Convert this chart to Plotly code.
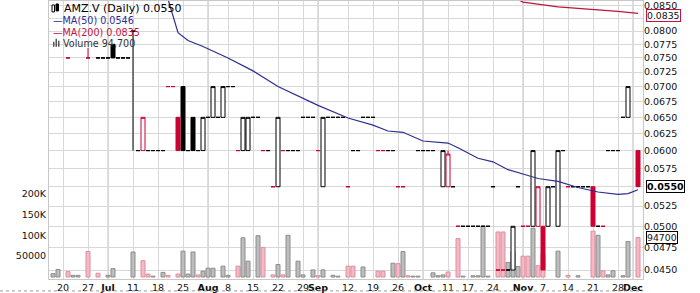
import math
import pandas as pd
import plotly.graph_objects as go

# ---------------- trading calendar (TSX-V, 2011) ----------------
holidays = ["2011-07-01", "2011-08-01", "2011-09-05", "2011-10-10"]
trading_days = [d.strftime("%Y-%m-%d") for d in pd.bdate_range("2011-06-15", "2011-12-02")
                if d.strftime("%Y-%m-%d") not in holidays]
pos = {d: k for k, d in enumerate(trading_days)}

# ---------------- candles ----------------
candle_dates = [
    "2011-06-21", "2011-06-27", "2011-06-29", "2011-06-30", "2011-07-04", "2011-07-05", "2011-07-06",
    "2011-07-07", "2011-07-08", "2011-07-11", "2011-07-12", "2011-07-13", "2011-07-14", "2011-07-15",
    "2011-07-18", "2011-07-19", "2011-07-20", "2011-07-21", "2011-07-22", "2011-07-25", "2011-07-26",
    "2011-07-27", "2011-07-28", "2011-07-29", "2011-08-02", "2011-08-03", "2011-08-04", "2011-08-05",
    "2011-08-08", "2011-08-09", "2011-08-10", "2011-08-11", "2011-08-12", "2011-08-15", "2011-08-16",
    "2011-08-17", "2011-08-18", "2011-08-19", "2011-08-22", "2011-08-23", "2011-08-24", "2011-08-25",
    "2011-08-26", "2011-08-29", "2011-08-30", "2011-08-31", "2011-09-01", "2011-09-02", "2011-09-06",
    "2011-09-07", "2011-09-08", "2011-09-09", "2011-09-12", "2011-09-13", "2011-09-14", "2011-09-15",
    "2011-09-16", "2011-09-19", "2011-09-20", "2011-09-21", "2011-09-22", "2011-09-23", "2011-09-26",
    "2011-09-27", "2011-09-30", "2011-10-03", "2011-10-04", "2011-10-05", "2011-10-07", "2011-10-11",
    "2011-10-12", "2011-10-13", "2011-10-14", "2011-10-17", "2011-10-18", "2011-10-19", "2011-10-20",
    "2011-10-21", "2011-10-24", "2011-10-25", "2011-10-26", "2011-10-27", "2011-10-28", "2011-10-31",
    "2011-11-01", "2011-11-02", "2011-11-03", "2011-11-04", "2011-11-07", "2011-11-08", "2011-11-09",
    "2011-11-10", "2011-11-11", "2011-11-14", "2011-11-15", "2011-11-16", "2011-11-17", "2011-11-18",
    "2011-11-21", "2011-11-22", "2011-11-23", "2011-11-24", "2011-11-25", "2011-11-28", "2011-11-29",
    "2011-11-30", "2011-12-02",
]
opens = [
    0.075, 0.075, 0.075, 0.075, 0.075, 0.0775, 0.075,
    0.075, 0.075, 0.080, 0.060, 0.060, 0.060, 0.060,
    0.060, 0.060, 0.070, 0.070, 0.065, 0.070, 0.060,
    0.065, 0.060, 0.060, 0.065, 0.065, 0.065, 0.065,
    0.070, 0.070, 0.060, 0.060, 0.060, 0.065, 0.065,
    0.060, 0.060, 0.055, 0.055, 0.060, 0.060, 0.060,
    0.060, 0.065, 0.065, 0.065, 0.060, 0.055, 0.065,
    0.065, 0.065, 0.065, 0.055, 0.060, 0.060, 0.065,
    0.065, 0.065, 0.060, 0.060, 0.060, 0.060, 0.055,
    0.055, 0.060, 0.060, 0.060, 0.060, 0.055, 0.055,
    0.055, 0.050, 0.050, 0.050, 0.050, 0.050, 0.050,
    0.050, 0.055, 0.045, 0.045, 0.045, 0.045, 0.055,
    0.050, 0.050, 0.050, 0.050, 0.050, 0.050, 0.055,
    0.050, 0.060, 0.055, 0.055, 0.055, 0.055, 0.055,
    0.055, 0.050, 0.050, 0.060, 0.060, 0.060, 0.065,
    0.065, 0.060,
]
highs = [
    0.075, 0.0768, 0.075, 0.075, 0.075, 0.0775, 0.075,
    0.075, 0.075, 0.080, 0.060, 0.065, 0.060, 0.060,
    0.060, 0.060, 0.070, 0.070, 0.065, 0.070, 0.060,
    0.065, 0.060, 0.065, 0.065, 0.070, 0.065, 0.070,
    0.070, 0.070, 0.060, 0.065, 0.065, 0.065, 0.065,
    0.060, 0.060, 0.055, 0.065, 0.060, 0.060, 0.060,
    0.060, 0.065, 0.065, 0.065, 0.060, 0.065, 0.065,
    0.065, 0.065, 0.065, 0.055, 0.060, 0.060, 0.065,
    0.065, 0.065, 0.060, 0.060, 0.060, 0.060, 0.055,
    0.055, 0.060, 0.060, 0.060, 0.060, 0.060, 0.060,
    0.055, 0.050, 0.050, 0.050, 0.050, 0.050, 0.050,
    0.050, 0.055, 0.045, 0.045, 0.045, 0.050, 0.055,
    0.050, 0.050, 0.060, 0.055, 0.050, 0.055, 0.055,
    0.060, 0.060, 0.055, 0.055, 0.055, 0.055, 0.055,
    0.055, 0.050, 0.050, 0.060, 0.060, 0.060, 0.065,
    0.070, 0.060,
]
lows = [
    0.075, 0.075, 0.075, 0.075, 0.075, 0.075, 0.075,
    0.075, 0.075, 0.060, 0.060, 0.060, 0.060, 0.060,
    0.060, 0.060, 0.070, 0.070, 0.060, 0.060, 0.060,
    0.060, 0.060, 0.060, 0.065, 0.065, 0.065, 0.065,
    0.070, 0.070, 0.060, 0.060, 0.060, 0.065, 0.065,
    0.060, 0.060, 0.055, 0.055, 0.060, 0.060, 0.060,
    0.060, 0.065, 0.065, 0.065, 0.060, 0.055, 0.065,
    0.065, 0.065, 0.065, 0.055, 0.060, 0.060, 0.065,
    0.065, 0.065, 0.060, 0.060, 0.060, 0.060, 0.055,
    0.055, 0.060, 0.060, 0.060, 0.060, 0.055, 0.055,
    0.055, 0.050, 0.050, 0.050, 0.050, 0.050, 0.050,
    0.050, 0.055, 0.045, 0.045, 0.045, 0.045, 0.055,
    0.050, 0.050, 0.050, 0.050, 0.045, 0.050, 0.055,
    0.050, 0.060, 0.055, 0.055, 0.055, 0.055, 0.055,
    0.050, 0.050, 0.050, 0.060, 0.060, 0.060, 0.065,
    0.065, 0.055,
]
closes = [
    0.075, 0.075, 0.075, 0.075, 0.075, 0.075, 0.075,
    0.075, 0.075, 0.080, 0.060, 0.065, 0.060, 0.060,
    0.060, 0.060, 0.070, 0.070, 0.060, 0.060, 0.060,
    0.060, 0.060, 0.065, 0.065, 0.070, 0.065, 0.070,
    0.070, 0.070, 0.060, 0.065, 0.065, 0.065, 0.065,
    0.060, 0.060, 0.055, 0.065, 0.060, 0.060, 0.060,
    0.060, 0.065, 0.065, 0.065, 0.060, 0.065, 0.065,
    0.065, 0.065, 0.065, 0.055, 0.060, 0.060, 0.065,
    0.065, 0.065, 0.060, 0.060, 0.060, 0.060, 0.055,
    0.055, 0.060, 0.060, 0.060, 0.060, 0.060, 0.0595,
    0.055, 0.050, 0.050, 0.050, 0.050, 0.050, 0.050,
    0.050, 0.055, 0.045, 0.045, 0.045, 0.050, 0.055,
    0.050, 0.050, 0.060, 0.055, 0.045, 0.055, 0.055,
    0.060, 0.060, 0.055, 0.055, 0.055, 0.055, 0.055,
    0.050, 0.050, 0.050, 0.060, 0.060, 0.060, 0.065,
    0.070, 0.055,
]
# 'k' = close at/above previous close, 'r' = below previous close
candle_colors = [
    "r", "r", "k", "k", "k", "k", "k",
    "k", "k", "k", "k", "r", "k", "k",
    "k", "k", "r", "r", "r", "k", "k",
    "k", "k", "k", "k", "k", "k", "k",
    "k", "k", "r", "k", "k", "k", "k",
    "r", "k", "r", "k", "r", "k", "k",
    "k", "k", "k", "k", "r", "k", "k",
    "k", "k", "k", "r", "k", "k", "k",
    "k", "k", "r", "r", "k", "k", "r",
    "r", "k", "k", "k", "k", "k", "r",
    "k", "r", "k", "k", "k", "k", "k",
    "k", "k", "r", "r", "k", "k", "k",
    "r", "r", "k", "r", "r", "k", "k",
    "k", "k", "r", "k", "k", "k", "k",
    "r", "k", "r", "k", "k", "k", "k",
    "k", "r",
]

# ---------------- volume ----------------
vol_dates = [
    "2011-06-16", "2011-06-17", "2011-06-21", "2011-06-22", "2011-06-23", "2011-06-27", "2011-06-29",
    "2011-07-04", "2011-07-05", "2011-07-11", "2011-07-13", "2011-07-14", "2011-07-15", "2011-07-19",
    "2011-07-20", "2011-07-22", "2011-07-25", "2011-07-26", "2011-07-27", "2011-07-28", "2011-07-29",
    "2011-08-02", "2011-08-03", "2011-08-05", "2011-08-08", "2011-08-10", "2011-08-11", "2011-08-12",
    "2011-08-16", "2011-08-17", "2011-08-19", "2011-08-22", "2011-08-23", "2011-08-24", "2011-08-26",
    "2011-08-29", "2011-08-31", "2011-09-01", "2011-09-02", "2011-09-07", "2011-09-08", "2011-09-12",
    "2011-09-13", "2011-09-15", "2011-09-20", "2011-09-21", "2011-09-23", "2011-09-26", "2011-09-27",
    "2011-09-28", "2011-09-29", "2011-09-30", "2011-10-05", "2011-10-06", "2011-10-07", "2011-10-11",
    "2011-10-13", "2011-10-14", "2011-10-18", "2011-10-19", "2011-10-20", "2011-10-21", "2011-10-25",
    "2011-10-26", "2011-10-27", "2011-10-28", "2011-10-31", "2011-11-01", "2011-11-02", "2011-11-03",
    "2011-11-04", "2011-11-07", "2011-11-10", "2011-11-14", "2011-11-16", "2011-11-21", "2011-11-22",
    "2011-11-23", "2011-11-24", "2011-11-25", "2011-11-29", "2011-11-30", "2011-12-02",
]
volumes = [
    8000, 18000, 13000, 4000, 4000, 61000, 9000,
    4000, 20000, 60000, 39000, 7000, 2000, 11000,
    4000, 7000, 62000, 7000, 60000, 5000, 14000,
    21000, 21000, 26000, 4000, 26000, 94000, 38000,
    99000, 71000, 5000, 30000, 5000, 100000, 38000,
    5000, 17000, 3000, 17000, 4000, 2000, 26000,
    26000, 24000, 14000, 14000, 33000, 32000, 61000,
    3000, 2000, 2000, 10000, 3000, 5000, 12000,
    92000, 2000, 3000, 3000, 122000, 2000, 108000,
    108000, 35000, 62000, 25000, 50000, 50000, 117000,
    27000, 55000, 62000, 4000, 3000, 110000, 100000,
    15000, 5000, 15000, 3000, 85000, 94700,
]
vol_colors = [
    "k", "k", "r", "k", "k", "r", "r",
    "k", "k", "k", "r", "r", "k", "k",
    "r", "r", "k", "k", "k", "r", "k",
    "k", "k", "k", "k", "r", "k", "k",
    "k", "r", "r", "k", "r", "k", "k",
    "k", "k", "r", "k", "k", "k", "r",
    "r", "k", "r", "r", "k", "r", "k",
    "r", "k", "k", "k", "k", "k", "r",
    "r", "k", "k", "k", "k", "k", "r",
    "r", "k", "k", "k", "r", "r", "k",
    "r", "r", "k", "r", "k", "r", "k",
    "r", "k", "k", "k", "k", "r",
]

# ---------------- moving averages ----------------
ma50_dates = [
    "2011-07-20", "2011-07-22", "2011-07-26", "2011-07-29", "2011-08-08", "2011-08-15", "2011-08-22",
    "2011-08-26", "2011-09-01", "2011-09-12", "2011-09-19", "2011-09-22", "2011-09-27", "2011-10-03",
    "2011-10-11", "2011-10-13", "2011-10-19", "2011-10-24", "2011-10-27", "2011-11-02", "2011-11-04",
    "2011-11-10", "2011-11-16", "2011-11-22", "2011-11-28", "2011-11-30", "2011-12-02",
]
ma50 = [
    0.0864, 0.0797, 0.0782, 0.0771, 0.0750, 0.0727, 0.0700,
    0.0684, 0.0669, 0.0649, 0.0638, 0.0629, 0.0627, 0.0614,
    0.0611, 0.0604, 0.0589, 0.0584, 0.0573, 0.0565, 0.0561,
    0.0557, 0.0549, 0.0543, 0.0540, 0.0541, 0.0546,
]
ma200_dates = ["2011-10-31", "2011-11-01", "2011-11-10", "2011-11-22", "2011-11-28", "2011-12-02"]
ma200 = [0.0863, 0.0858, 0.0848, 0.0843, 0.0839, 0.0835]

# ---------------- axis labels ----------------
week_ticks = ["2011-06-20", "2011-06-27", "2011-07-04", "2011-07-11", "2011-07-18", "2011-07-25",
              "2011-08-02", "2011-08-08", "2011-08-15", "2011-08-22", "2011-08-29", "2011-09-01",
              "2011-09-12", "2011-09-19", "2011-09-26", "2011-10-03", "2011-10-11", "2011-10-17",
              "2011-10-24", "2011-11-01", "2011-11-07", "2011-11-14", "2011-11-21", "2011-11-28",
              "2011-12-01"]
week_labels = ["20", "27", "<b>Jul</b>", "11", "18", "25", "<b>Aug</b>", "8", "15", "22", "29",
               "<b>Sep</b>", "12", "19", "26", "<b>Oct</b>", "11", "17", "24", "<b>Nov</b>", "7",
               "14", "21", "28", "<b>Dec</b>"]
month_ticks = ["2011-07-04", "2011-08-02", "2011-09-01", "2011-10-03", "2011-11-01", "2011-12-01"]
price_ticks = [0.0450, 0.0475, 0.0500, 0.0525, 0.0550, 0.0575, 0.0600, 0.0625, 0.0650, 0.0675,
               0.0700, 0.0725, 0.0750, 0.0775, 0.0800, 0.0825, 0.0850]
hidden_price_labels = [0.0550, 0.0825]   # covered by the value tags in the reference
vol_ticks = [50000, 100000, 150000, 200000]
vol_tick_labels = ["50000", "100K", "150K", "200K"]

BLACK = "#000000"
RED = "#cc0033"
NAVY = "#2b2f8f"
MA200_RED = "#c0143c"
FONT = "DejaVu Sans"
GRID = "#d8d8d8"

fig = go.Figure()

# volume (left linear axis, drawn underneath)
fig.add_trace(go.Bar(
    x=[pos[d] for d in vol_dates], y=volumes, width=0.8,
    marker=dict(color=["#bdbdbd" if c == "k" else "#f3b9c5" for c in vol_colors],
                line=dict(color=["#8c8c8c" if c == "k" else "#df8ea0" for c in vol_colors], width=1)),
    yaxis="y", showlegend=False, hoverinfo="skip"))

# candles on the log price axis
for key, col in (("k", BLACK), ("r", RED)):
    idx = [k for k, c in enumerate(candle_colors) if c == key]
    fig.add_trace(go.Candlestick(
        x=[pos[candle_dates[k]] for k in idx],
        open=[opens[k] for k in idx], high=[highs[k] for k in idx],
        low=[lows[k] for k in idx], close=[closes[k] for k in idx],
        increasing=dict(line=dict(color=col, width=1), fillcolor="#ffffff"),
        decreasing=dict(line=dict(color=col, width=1), fillcolor=col),
        yaxis="y2", showlegend=False, hoverinfo="skip"))

fig.add_trace(go.Scatter(x=[pos[d] for d in ma50_dates], y=ma50, mode="lines",
                         line=dict(color=NAVY, width=1.2), yaxis="y2", showlegend=False,
                         hoverinfo="skip"))
fig.add_trace(go.Scatter(x=[pos[d] for d in ma200_dates], y=ma200, mode="lines",
                         line=dict(color=MA200_RED, width=1.2), yaxis="y2", showlegend=False,
                         hoverinfo="skip"))

PL, PR, PT, PB = 49, 643, 0, 280
W, H = 700, 293


def px(xp):
    return (xp - PL) / (PR - PL)


def py(yp):
    return (PB - yp) / (PB - PT)


shapes = []
for d in month_ticks:
    shapes.append(dict(type="line", xref="x", yref="paper", x0=pos[d], x1=pos[d], y0=0, y1=1,
                       line=dict(color="#bdbdbd", width=1), layer="below"))
shapes.append(dict(type="line", xref="paper", yref="paper", x0=px(0), x1=1.0, y0=py(292), y1=py(292),
                   line=dict(color="#9a9a9a", width=1, dash="dot")))
# legend icons
shapes += [
    dict(type="rect", xref="paper", yref="paper", x0=px(52), x1=px(54.5), y0=py(11), y1=py(4),
         line=dict(color=BLACK, width=1), fillcolor="#ffffff"),
    dict(type="rect", xref="paper", yref="paper", x0=px(56), x1=px(58.5), y0=py(10), y1=py(3),
         line=dict(color=BLACK, width=1), fillcolor=BLACK),
    dict(type="rect", xref="paper", yref="paper", x0=px(53), x1=px(54.5), y0=py(46), y1=py(41),
         line=dict(width=0), fillcolor="#555555"),
    dict(type="rect", xref="paper", yref="paper", x0=px(55.5), x1=px(57), y0=py(46), y1=py(38),
         line=dict(width=0), fillcolor="#555555"),
    dict(type="rect", xref="paper", yref="paper", x0=px(58), x1=px(59.5), y0=py(46), y1=py(40),
         line=dict(width=0), fillcolor="#555555"),
]

ann = [
    dict(text="AMZ.V (Daily) 0.0550", x=px(62), y=py(7.5), size=11, color="#000000"),
    dict(text="\u2014MA(50) 0.0546", x=px(51), y=py(20), size=9.6, color=NAVY),
    dict(text="\u2014MA(200) 0.0835", x=px(51), y=py(31.5), size=9.6, color=MA200_RED),
    dict(text="Volume 94,700", x=px(61), y=py(43), size=9.6, color="#333333"),
]
annotations = []
for a in ann:
    annotations.append(dict(text=a["text"], x=a["x"], y=a["y"], xref="paper", yref="paper",
                            xanchor="left", yanchor="middle", showarrow=False,
                            font=dict(family=FONT, size=a["size"], color=a["color"])))
# right-hand value tags
annotations.append(dict(text="0.0835", x=1.0, xshift=3, yshift=-2.5, y=math.log10(ma200[-1]), xref="paper",
                        yref="y2", xanchor="left", yanchor="middle", showarrow=False, bgcolor="#ffffff",
                        bordercolor=MA200_RED, borderwidth=1, borderpad=0,
                        font=dict(family=FONT, size=9.3, color="#111111")))
annotations.append(dict(text="<b>0.0550</b>", x=1.0, xshift=3, y=math.log10(closes[-1]), xref="paper",
                        yref="y2", xanchor="left", yanchor="middle", showarrow=False,
                        bgcolor="#ffffff", bordercolor="#000000", borderwidth=1, borderpad=0,
                        font=dict(family=FONT, size=9.5, color="#000000")))
annotations.append(dict(text="94700", x=1.0, xshift=3, y=volumes[-1], xref="paper", yref="y",
                        xanchor="left", yanchor="middle", showarrow=False, bgcolor="#ffffff",
                        bordercolor="#000000", borderwidth=1, borderpad=0,
                        font=dict(family=FONT, size=9.3, color="#111111")))

p_top = 0.085 * math.exp(5 / 418.2)
p_bot = 0.085 * math.exp(-275 / 418.2)

fig.update_layout(
    width=W, height=H,
    margin=dict(l=PL, r=W - PR, t=PT, b=H - PB),
    paper_bgcolor="#ffffff", plot_bgcolor="#ffffff",
    boxgap=0.2, boxgroupgap=0.0,
    font=dict(family=FONT, size=9.5, color="#111111"),
    xaxis=dict(range=[0.2, 119.0], tickmode="array", tickvals=[pos[d] for d in week_ticks],
               ticktext=week_labels, tickangle=0, showgrid=True, gridcolor=GRID, gridwidth=1,
               zeroline=False, ticks="", showline=True, mirror=True, linecolor="#c8c8c8",
               rangeslider=dict(visible=False), tickfont=dict(family=FONT, size=9.5, color="#111111")),
    yaxis=dict(range=[-4800, 662000], tickmode="array", tickvals=vol_ticks, ticktext=vol_tick_labels,
               showgrid=False, zeroline=False, ticks="", side="left", showline=True, mirror=True,
               linecolor="#c8c8c8", tickfont=dict(family=FONT, size=9.5, color="#111111")),
    yaxis2=dict(type="log", range=[math.log10(p_bot), math.log10(p_top)], overlaying="y", side="right",
                tickmode="array", tickvals=price_ticks,
                ticktext=["" if v in hidden_price_labels else f"{v:.4f}" for v in price_ticks],
                showgrid=True, gridcolor=GRID, gridwidth=1, zeroline=False, ticks="",
                tickfont=dict(family=FONT, size=9.5, color="#111111")),
    shapes=shapes, annotations=annotations, showlegend=False,
)

fig.write_html("out.html")
